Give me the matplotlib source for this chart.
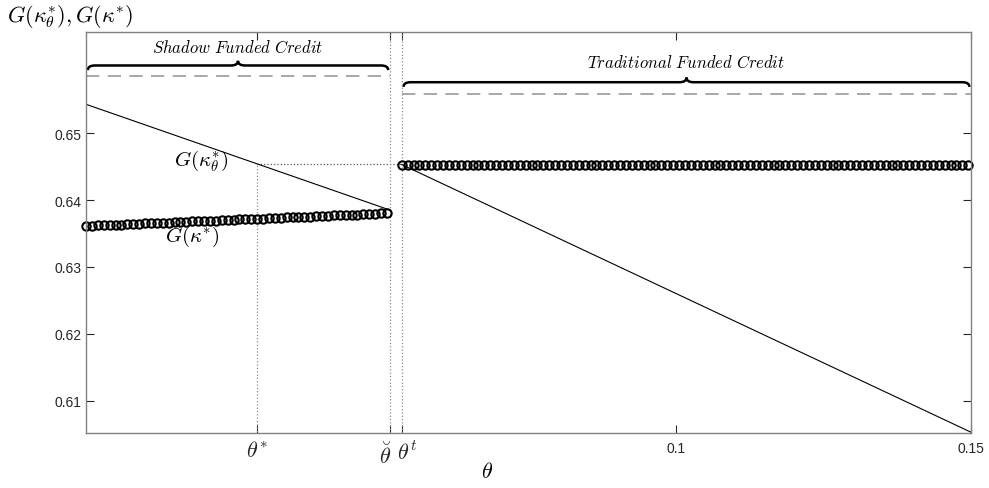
import numpy as np
import matplotlib
matplotlib.use('Agg')
import matplotlib.pyplot as plt
from matplotlib.path import Path
from matplotlib.patches import PathPatch
from matplotlib.transforms import ScaledTranslation

plt.rcParams['mathtext.fontset'] = 'cm'
plt.rcParams['font.family'] = 'Liberation Sans'

# thresholds on the theta axis
theta_star = 0.029
theta_breve = 0.0515
theta_t = 0.0535

# G(kappa*) under shadow funding (circles, left branch)
theta_left = np.arange(0.0, 0.0515, 0.001)
g_left = [0.6361, 0.6361, 0.6362, 0.6362, 0.6363, 0.6363, 0.6363, 0.6364, 0.6364, 0.6364,
          0.6365, 0.6365, 0.6366, 0.6366, 0.6366, 0.6367, 0.6367, 0.6367, 0.6368, 0.6368,
          0.6369, 0.6369, 0.6369, 0.6370, 0.6370, 0.6370, 0.6371, 0.6371, 0.6371, 0.6372,
          0.6372, 0.6373, 0.6373, 0.6373, 0.6374, 0.6374, 0.6374, 0.6375, 0.6375, 0.6376,
          0.6376, 0.6376, 0.6377, 0.6377, 0.6377, 0.6378, 0.6378, 0.6379, 0.6379, 0.6379,
          0.6380, 0.6380]

# G(kappa*) under traditional funding (circles, right branch, flat)
theta_right = np.arange(0.0535, 0.1505, 0.001)
g_right = [0.6453] * len(theta_right)

# G(kappa*_theta) solid lines
line_left_x = [0.0, theta_breve]
line_left_y = [0.6543, 0.6385]
line_right_x = [theta_t, 0.15]
line_right_y = [0.6453, 0.6053]

# dashed upper levels
dash_left_y = 0.6586
dash_right_y = 0.6558
g_theta_star = 0.6454

xtick_vals = [theta_star, theta_breve, theta_t, 0.1, 0.15]
xtick_labels = [r'$\theta^{*}$', r'$\breve{\theta}$', r'$\theta^{t}$', '0.1', '0.15']
ytick_vals = [0.61, 0.62, 0.63, 0.64, 0.65]


def brace(ax, x0, x1, y, dx, dy, lw=1.8):
    """Horizontal curly brace with the tip pointing up."""
    xm = 0.5 * (x0 + x1)
    verts = [
        (x0, y - dy), (x0, y), (x0 + dx, y),
        (xm - dx, y),
        (xm, y), (xm, y + dy),
        (xm, y), (xm + dx, y),
        (x1 - dx, y),
        (x1, y), (x1, y - dy),
    ]
    codes = [Path.MOVETO, Path.CURVE3, Path.CURVE3,
             Path.LINETO,
             Path.CURVE3, Path.CURVE3,
             Path.CURVE3, Path.CURVE3,
             Path.LINETO,
             Path.CURVE3, Path.CURVE3]
    ax.add_patch(PathPatch(Path(verts, codes), fill=False, lw=lw, color='black'))


fig = plt.figure(figsize=(9.89, 4.89), dpi=100)
ax = fig.add_axes([0.087, 0.1125, 0.895, 0.82])

gray = '#8c8c8c'

# dotted guides
ax.plot([theta_star, theta_star], [0.6, g_theta_star], ls=':', color=gray, lw=0.9)
ax.plot([theta_star, theta_t], [g_theta_star, g_theta_star], ls=':', color='#555555', lw=0.9)
ax.axvline(theta_breve, ls=':', color=gray, lw=0.9)
ax.axvline(theta_t, ls=':', color=gray, lw=0.9)

# solid G(kappa*_theta)
ax.plot(line_left_x, line_left_y, color='black', lw=0.8)
ax.plot(line_right_x, line_right_y, color='black', lw=0.8)

# circles G(kappa*)
ax.plot(theta_left, g_left, 'o', mfc='none', mec='black', mew=1.5, ms=6, clip_on=False)
ax.plot(theta_right, g_right, 'o', mfc='none', mec='black', mew=1.5, ms=6, clip_on=False)

# dashed upper levels
ax.plot([0.0, theta_breve], [dash_left_y, dash_left_y], ls=(0, (8, 5)), color='#999999', lw=1.2)
ax.plot([theta_t, 0.15], [dash_right_y, dash_right_y], ls=(0, (8, 5)), color='#999999', lw=1.2)

# braces and labels
brace(ax, 0.0003, theta_breve - 0.0003, 0.6601, 0.0012, 0.0007)
brace(ax, theta_t + 0.0003, 0.1497, 0.6576, 0.0012, 0.0007)
ax.text(0.5 * theta_breve, 0.6630, r'$\mathit{Shadow\ Funded\ Credit}$', ha='center', va='center', fontsize=12)
ax.text(0.5 * (theta_t + 0.15), 0.6607, r'$\mathit{Traditional\ Funded\ Credit}$', ha='center', va='center', fontsize=12)

ax.text(0.0195, 0.6461, r'$G(\kappa_{\theta}^{*})$', ha='center', va='center', fontsize=15)
ax.text(0.0180, 0.6346, r'$G(\kappa^{*})$', ha='center', va='center', fontsize=15)

ax.set_xlim(0.0, 0.15)
ax.set_ylim(0.6052, 0.6651)
ax.set_xticks(xtick_vals)
ax.set_xticklabels(xtick_labels)
ax.set_yticks(ytick_vals)
ax.set_yticklabels([f'{v:.2f}' for v in ytick_vals])
ax.tick_params(axis='y', labelsize=10)
ax.tick_params(direction='in', length=6, width=0.8, color='#262626',
               top=True, right=True, labelcolor='#262626')
ax.tick_params(axis='x', pad=6)
xlabs = ax.get_xticklabels()
for lab in xlabs[:3]:
    lab.set_fontsize(16)
for lab in xlabs[3:]:
    lab.set_fontsize(10)
# pull the two close labels apart
xlabs[1].set_transform(xlabs[1].get_transform() + ScaledTranslation(-5 / 100, 0, fig.dpi_scale_trans))
xlabs[2].set_transform(xlabs[2].get_transform() + ScaledTranslation(5 / 100, 0, fig.dpi_scale_trans))
for s in ax.spines.values():
    s.set_color('#808080')
    s.set_linewidth(1.0)

fig.text(0.007, 0.967, r'$G(\kappa_{\theta}^{*}), G(\kappa^{*})$', ha='left', va='center', fontsize=16)
fig.text(0.492, 0.033, r'$\theta$', ha='center', va='center', fontsize=16)

fig.savefig('out.png', dpi=100)
